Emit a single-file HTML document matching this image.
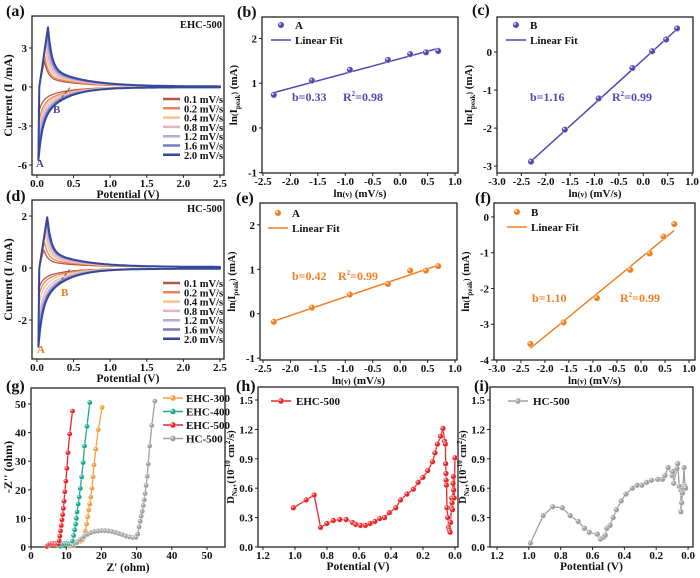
<!DOCTYPE html>
<html><head><meta charset="utf-8"><style>
html,body{margin:0;padding:0;background:#fff;}
svg{display:block;font-family:"Liberation Serif",serif;font-weight:bold;}
</style></head><body>
<svg id="fig" width="700" height="578" viewBox="0 0 700 578" xmlns="http://www.w3.org/2000/svg"></svg>
<script>
// ---------- data ----------
const scanRates = ["0.1 mV/s","0.2 mV/s","0.4 mV/s","0.8 mV/s","1.2 mV/s","1.6 mV/s","2.0 mV/s"];
const cvColors = ["#b5574a","#e8845a","#f5c58a","#e6b2c6","#b7a6d8","#7c7cc0","#34499a"];
const ehcAnodicPeak = [2.0,2.5,3.1,3.5,3.9,4.2,4.6];
const ehcAnodicPos = [0.10,0.10,0.11,0.12,0.13,0.14,0.15];
const ehcCathodicMin = [-2.0,-2.8,-3.3,-3.9,-4.5,-5.0,-5.6];
const hcAnodicPeak = [0.7,1.0,1.3,1.5,1.7,1.85,1.95];
const hcAnodicPos = [0.09,0.10,0.11,0.12,0.13,0.13,0.14];
const hcCathodicMin = [-0.8,-1.1,-1.5,-2.0,-2.4,-2.7,-3.0];

const lnV = [-2.303,-1.609,-0.916,-0.223,0.182,0.470,0.693];
const bPeakA = [0.74,1.06,1.30,1.52,1.65,1.69,1.72];
const cPeakB = [-2.88,-2.04,-1.22,-0.42,0.02,0.33,0.62];
const ePeakA = [-0.18,0.14,0.43,0.67,0.97,0.97,1.07];
const fPeakB = [-3.55,-2.95,-2.27,-1.48,-1.02,-0.55,-0.20];
const fitSlope = {b:0.33,c:1.16,e:0.42,f:1.10};
const fitIntercept = {b:1.55,c:-0.20,e:0.80,f:-1.14};

const eisNames = ["EHC-300","EHC-400","EHC-500","HC-500"];
const eisColors = ["#f0a040","#1aaa8c","#e8262a","#a0a0a0"];
const eis300Re = [11,12,13,14,14.6,15,15.4,15.8,16.1,16.4,16.7,17,17.3,17.6,17.9,18.4,19.1,20.2];
const eis300Im = [0.3,1.3,1.8,2,2.5,3.5,5.5,8,10.5,13,15,17.5,20.5,24.5,28.7,34.2,41,48.8];
const eis400Re = [8.3,8.8,9.5,10.2,10.8,11.4,11.8,12.1,12.4,12.7,12.9,13.1,13.4,13.7,14.0,14.4,14.8,15.2,15.9,16.7];
const eis400Im = [0.3,0.9,1.2,1.2,1.0,1.0,2,4,6,8,10,12.3,15,17.5,20.5,24.5,29.5,35.3,42.2,50.5];
const eis500Re = [4.5,5,5.5,6,6.5,7,7.5,7.8,8.0,8.2,8.4,8.6,8.8,9.0,9.2,9.4,9.6,9.9,10.2,10.5,11.0,11.8];
const eis500Im = [0.2,0.8,1.1,1.2,1.2,1.1,0.9,1.0,2.2,3.8,5.6,7.5,9.5,11.3,13.5,16,19.3,23,27.5,33,39.5,47.5];
const eisHCRe = [12,13,14,15,16,17,18,19,20,21,22,23,24,25,26,27,28,29,29.8,30.3,30.7,31.0,31.3,31.6,31.9,32.2,32.4,32.7,33.0,33.3,33.7,34.3,35.2];
const eisHCIm = [0.5,1.5,2.6,3.6,4.4,5,5.4,5.6,5.7,5.7,5.6,5.4,5.1,4.7,4.3,3.8,3.5,3.3,3.4,4.5,7,9,10.8,12.5,14.5,16.5,18.7,21.5,24.7,29,35.3,42.5,51];

const hPot = [1.01,0.93,0.88,0.84,0.80,0.76,0.72,0.68,0.64,0.62,0.59,0.56,0.53,0.50,0.47,0.44,0.41,0.37,0.34,0.30,0.26,0.23,0.20,0.17,0.14,0.125,0.11,0.09,0.075,0.065,0.06,0.058,0.056,0.055,0.053,0.05,0.045,0.04,0.035,0.03,0.027,0.022,0.02,0.018,0.015,0.012,0.01,0.008,0.005,0.0];
const hD = [0.40,0.48,0.53,0.20,0.24,0.27,0.28,0.28,0.25,0.23,0.22,0.22,0.24,0.26,0.29,0.30,0.35,0.40,0.48,0.54,0.59,0.66,0.71,0.78,0.87,0.96,1.05,1.13,1.21,1.08,1.05,0.85,0.75,0.68,0.63,0.40,0.30,0.20,0.17,0.15,0.25,0.40,0.50,0.45,0.38,0.65,0.72,0.58,0.50,0.91];
const iPot = [0.99,0.91,0.85,0.79,0.74,0.69,0.65,0.62,0.57,0.55,0.53,0.52,0.51,0.49,0.47,0.45,0.42,0.39,0.35,0.32,0.29,0.26,0.23,0.19,0.16,0.145,0.125,0.10,0.095,0.09,0.07,0.065,0.055,0.045,0.045,0.04,0.035,0.025,0.02,0.015];
const iD = [0.04,0.32,0.41,0.40,0.32,0.26,0.19,0.15,0.13,0.08,0.10,0.12,0.19,0.22,0.30,0.38,0.47,0.54,0.60,0.63,0.63,0.66,0.68,0.69,0.69,0.73,0.81,0.73,0.77,0.65,0.80,0.85,0.62,0.58,0.36,0.45,0.55,0.81,0.62,0.60];

const ticksCVx = [0.0,0.5,1.0,1.5,2.0,2.5];
const ticksCVxLbl = ["0.0","0.5","1.0","1.5","2.0","2.5"];
const ticksAy = [3,0,-3,-6];
const ticksDy = [2,0,-2];
const ticksLnX1 = [-2.5,-2.0,-1.5,-1.0,-0.5,0.0,0.5,1.0];
const ticksLnX2 = [-3.0,-2.5,-2.0,-1.5,-1.0,-0.5,0.0,0.5,1.0];
const ticksBy = [2,1,0,-1];
const ticksCy = [0,-1,-2,-3];
const ticksFy = [0,-1,-2,-3,-4];
const ticksGx = [0,10,20,30,40,50];
const ticksGy = [0,10,20,30,40,50];
const ticksDx = [1.2,1.0,0.8,0.6,0.4,0.2,0.0];
const ticksDyv = [0.0,0.3,0.6,0.9,1.2,1.5];

// ---------- helpers ----------
const NS="http://www.w3.org/2000/svg";
const svg=document.getElementById('fig');
function mk(tag,attrs,name,parent){
  const el=document.createElementNS(NS,tag);
  for(const k in attrs) el.setAttribute(k,attrs[k]);
  
  
  (parent||svg).appendChild(el);
  return el;
}
function txt(x,y,s,size,name,opts){
  opts=opts||{};
  const t=mk('text',{x:x,y:y,'font-size':size,'text-anchor':opts.anchor||'start',fill:opts.fill||'#111'},name,opts.parent);
  if(opts.rot) t.setAttribute('transform','rotate(-90 '+x+' '+y+')');
  t.innerHTML=s;
  return t;
}
function panel(o){
  o.sx=v=>o.L+(v-o.x0)/(o.x1-o.x0)*(o.R-o.L);
  o.sy=v=>o.B-(v-o.y0)/(o.y1-o.y0)*(o.B-o.T);
  o.g=mk('g',{},'panel-'+o.id);
  mk('rect',{x:o.L,y:o.T,width:o.R-o.L,height:o.B-o.T,fill:'none',stroke:'#222','stroke-width':1.3},'plot-frame-'+o.id,o.g);
  o.xt.forEach((v,i)=>{
    const x=o.sx(v);
    mk('line',{x1:x,y1:o.B,x2:x,y2:o.B+3,stroke:'#222','stroke-width':1},'x-tick',o.g);
    txt(x,o.B+12,o.xl?o.xl[i]:v.toFixed(1),11,'x-tick-label',{anchor:'middle',parent:o.g});
  });
  o.yt.forEach((v,i)=>{
    const y=o.sy(v);
    mk('line',{x1:o.L-3,y1:y,x2:o.L,y2:y,stroke:'#222','stroke-width':1},'y-tick',o.g);
    txt(o.L-5,y+4,o.yl?o.yl[i]:String(v),11,'y-tick-label',{anchor:'end',parent:o.g});
  });
  txt(o.lx,o.ly,o.label,16,'panel-label-'+o.id,{parent:o.g});
  return o;
}
function marker(p,x,y,col,r,name){
  mk('circle',{cx:x,cy:y,r:r,fill:col,stroke:'#ffffff','stroke-width':0.6,'stroke-opacity':0.6},name,p.g);
  mk('circle',{cx:x-r*0.3,cy:y-r*0.3,r:r*0.35,fill:'#fff','fill-opacity':0.7},name+'-highlight',p.g);
}

// ---------- CV panels ----------
function cvPanel(p,peaks,pos,mins,tag,tagX,tagCol,aLbl,bLbl){
  for(let k=0;k<scanRates.length;k++){
    const pk=peaks[k],xp=pos[k],mn=mins[k],x0=0.02,s=pk*0.32,km=-mn;
    const pts=[[x0,mn],[x0+0.012,0],[xp,pk]];
    for(let x=xp+0.01;x<=2.5;x+=0.01) pts.push([x,pk*0.68*Math.exp(-(x-xp)/0.05)+s*Math.exp(-(x-xp)/0.45)+0.04]);
    for(let x=2.5;x>=x0;x-=0.01) pts.push([x,-0.03-km*(0.5*Math.exp(-(x-x0)/0.05)+0.5*Math.exp(-(x-x0)/0.3))]);
    pts.push([x0,mn]);
    const d=pts.map((q,i)=>(i?'L':'M')+p.sx(q[0]).toFixed(1)+' '+p.sy(q[1]).toFixed(1)).join('');
    mk('path',{d:d,fill:'none',stroke:cvColors[k],'stroke-width':k==6?2:1.3,'stroke-linejoin':'round'},'cv-curve-'+scanRates[k].split(' ')[0],p.g);
    const ly=p.T+83+k*9.3;
    mk('line',{x1:163,y1:ly,x2:180,y2:ly,stroke:cvColors[k],'stroke-width':2.5},'legend-swatch',p.g);
    txt(184,ly+4,scanRates[k],10.5,'legend-entry',{parent:p.g});
  }
  mk('line',{x1:p.sx(0.25),y1:p.sy(mins[6]*0.25),x2:p.sx(0.45),y2:p.sy(-0.05),stroke:'#555','stroke-width':1,'stroke-dasharray':'3 2'},'peak-shift-guide',p.g);
  txt(222,p.T+12,tag,10.5,'sample-name',{anchor:'end',parent:p.g});
  txt(aLbl[0],aLbl[1],'A',11,'peak-label-a',{fill:tagCol,parent:p.g});
  txt(bLbl[0],bLbl[1],'B',11,'peak-label-b',{fill:tagCol,parent:p.g});
  txt(128,p.B+23,'Potential (V)',11.5,'x-axis-title',{anchor:'middle',parent:p.g});
  txt(12,(p.T+p.B)/2,'Current (I /mA)',12,'y-axis-title',{anchor:'middle',rot:1,parent:p.g});
}
const pa=panel({id:'a',L:32,R:224,T:16,B:175,x0:-0.068,x1:2.555,y0:-6.77,y1:5.46,xt:ticksCVx,xl:ticksCVxLbl,yt:ticksAy,label:'(a)',lx:6,ly:16});
cvPanel(pa,ehcAnodicPeak,ehcAnodicPos,ehcCathodicMin,'EHC-500',222,'#5a3fa0',[36,167],[53,113]);
const pd=panel({id:'d',L:32,R:224,T:200,B:359,x0:-0.068,x1:2.555,y0:-3.5,y1:2.615,xt:ticksCVx,xl:ticksCVxLbl,yt:ticksDy,label:'(d)',lx:6,ly:201});
cvPanel(pd,hcAnodicPeak,hcAnodicPos,hcCathodicMin,'HC-500',222,'#f07f20',[37,353],[61,296]);

// ---------- ln fits ----------
function lnPanel(p,ys,key,col,lg,ann){
  const xa=lnV[0],xb=lnV[lnV.length-1];
  mk('line',{x1:p.sx(xa),y1:p.sy(fitIntercept[key]+fitSlope[key]*xa),x2:p.sx(xb),y2:p.sy(fitIntercept[key]+fitSlope[key]*xb),stroke:col,'stroke-width':1.5},'linear-fit-line',p.g);
  ys.forEach((v,i)=>marker(p,p.sx(lnV[i]),p.sy(v),col,3.2,'data-point'));
  marker(p,lg[0]+10,lg[1],col,3.2,'legend-marker');
  txt(lg[0]+24,lg[1]+4,lg[2],11,'legend-entry',{parent:p.g});
  mk('line',{x1:lg[0],y1:lg[1]+15,x2:lg[0]+20,y2:lg[1]+15,stroke:col,'stroke-width':1.5},'legend-fit-swatch',p.g);
  txt(lg[0]+24,lg[1]+19,'Linear Fit',11,'legend-entry',{parent:p.g});
  txt(ann[0],ann[1],'b='+fitSlope[key].toFixed(2),12,'slope-annotation',{fill:col,parent:p.g});
  txt(ann[2],ann[1],'R<tspan font-size="7" dy="-5">2</tspan><tspan dy="5">='+ann[3]+'</tspan>',12,'r2-annotation',{fill:col,parent:p.g});
  txt((p.L+p.R)/2,p.B+24,'ln<tspan font-size="8">(v)</tspan> (mV/s)',11,'x-axis-title',{anchor:'middle',parent:p.g});
  txt(p.L-25,(p.T+p.B)/2,'ln<tspan font-size="8">(</tspan>I<tspan font-size="7" dy="3">peak</tspan><tspan font-size="8" dy="-3">)</tspan> (mA)',11,'y-axis-title',{anchor:'middle',rot:1,parent:p.g});
}
const pb=panel({id:'b',L:262,R:458,T:17,B:173,x0:-2.518,x1:1.054,y0:-1.007,y1:2.48,xt:ticksLnX1,yt:ticksBy,label:'(b)',lx:237,ly:17});
lnPanel(pb,bPeakA,'b','#5a45b0',[271,25,'A'],[292,101,343,'0.98']);
const pc=panel({id:'c',L:497,R:693,T:17,B:173,x0:-3.0,x1:1.02,y0:-3.18,y1:0.92,xt:ticksLnX2,yt:ticksCy,label:'(c)',lx:472,ly:15});
lnPanel(pc,cPeakB,'c','#5a45b0',[506,25,'B'],[530,101,612,'0.99']);
const pe=panel({id:'e',L:260,R:457,T:203,B:360,x0:-2.555,x1:1.036,y0:-1.04,y1:2.49,xt:ticksLnX1,yt:ticksBy,label:'(e)',lx:236,ly:203});
lnPanel(pe,ePeakA,'e','#f07f20',[268,213,'A'],[292,280,338,'0.99']);
const pf=panel({id:'f',L:494,R:695,T:203,B:360,x0:-3.06,x1:1.125,y0:-4.0,y1:0.39,xt:ticksLnX2,yt:ticksFy,label:'(f)',lx:475,ly:203});
lnPanel(pf,fPeakB,'f','#f07f20',[507,212,'B'],[532,302,620,'0.99']);

// ---------- EIS ----------
const pg=panel({id:'g',L:31,R:225,T:388,B:547,x0:0,x1:55.1,y0:0,y1:55.6,xt:ticksGx,xl:ticksGx.map(String),yt:ticksGy,label:'(g)',lx:6,ly:391});
[[eis300Re,eis300Im],[eis400Re,eis400Im],[eis500Re,eis500Im],[eisHCRe,eisHCIm]].forEach((s,k)=>{
  const d=s[0].map((x,i)=>(i?'L':'M')+pg.sx(x).toFixed(1)+' '+pg.sy(s[1][i]).toFixed(1)).join('');
  mk('path',{d:d,fill:'none',stroke:eisColors[k],'stroke-width':1.3},'eis-curve-'+eisNames[k],pg.g);
  s[0].forEach((x,i)=>marker(pg,pg.sx(x),pg.sy(s[1][i]),eisColors[k],2.6,'eis-point'));
  const ly=398+k*13.5;
  mk('line',{x1:163,y1:ly,x2:183,y2:ly,stroke:eisColors[k],'stroke-width':1.5},'legend-swatch',pg.g);
  marker(pg,173,ly,eisColors[k],3,'legend-marker');
  txt(186,ly+4,eisNames[k],11,'legend-entry',{parent:pg.g});
});
txt(128,pg.B+24,"Z' (ohm)",11.5,'x-axis-title',{anchor:'middle',parent:pg.g});
txt(12,467,"-Z'' (ohm)",12,'y-axis-title',{anchor:'middle',rot:1,parent:pg.g});

// ---------- diffusion ----------
function dPanel(p,xs,ys,col,name,lgx){
  const d=xs.map((x,i)=>(i?'L':'M')+p.sx(x).toFixed(1)+' '+p.sy(ys[i]).toFixed(1)).join('');
  mk('path',{d:d,fill:'none',stroke:col,'stroke-width':1.3},'diffusion-curve',p.g);
  xs.forEach((x,i)=>marker(p,p.sx(x),p.sy(ys[i]),col,2.8,'diffusion-point'));
  mk('line',{x1:lgx,y1:401,x2:lgx+20,y2:401,stroke:col,'stroke-width':1.5},'legend-swatch',p.g);
  marker(p,lgx+10,401,col,3,'legend-marker');
  txt(lgx+25,405,name,11,'legend-entry',{parent:p.g});
  txt((p.L+p.R)/2,p.B+23,'Potential (V)',11.5,'x-axis-title',{anchor:'middle',parent:p.g});
  txt(p.L-24,(p.T+p.B)/2,'D<tspan font-size="7" dy="3">Na+</tspan><tspan dy="-3">(10</tspan><tspan font-size="7" dy="-4">-10</tspan><tspan dy="4"> cm</tspan><tspan font-size="7" dy="-4">2</tspan><tspan dy="4">/s)</tspan>',10.5,'y-axis-title',{anchor:'middle',rot:1,parent:p.g});
}
const ph=panel({id:'h',L:258,R:458,T:387,B:547,x0:1.231,x1:-0.019,y0:0,y1:1.633,xt:ticksDx,yt:ticksDyv,yl:ticksDyv.map(v=>v.toFixed(1)),label:'(h)',lx:236,ly:391});
dPanel(ph,hPot,hD,'#e8262a','EHC-500',271);
const pi=panel({id:'i',L:490,R:693,T:387,B:547,x0:1.244,x1:-0.031,y0:0,y1:1.633,xt:ticksDx,yt:ticksDyv,yl:ticksDyv.map(v=>v.toFixed(1)),label:'(i)',lx:474,ly:391});
dPanel(pi,iPot,iD,'#a0a0a0','HC-500',508);
</script>
</body></html>
